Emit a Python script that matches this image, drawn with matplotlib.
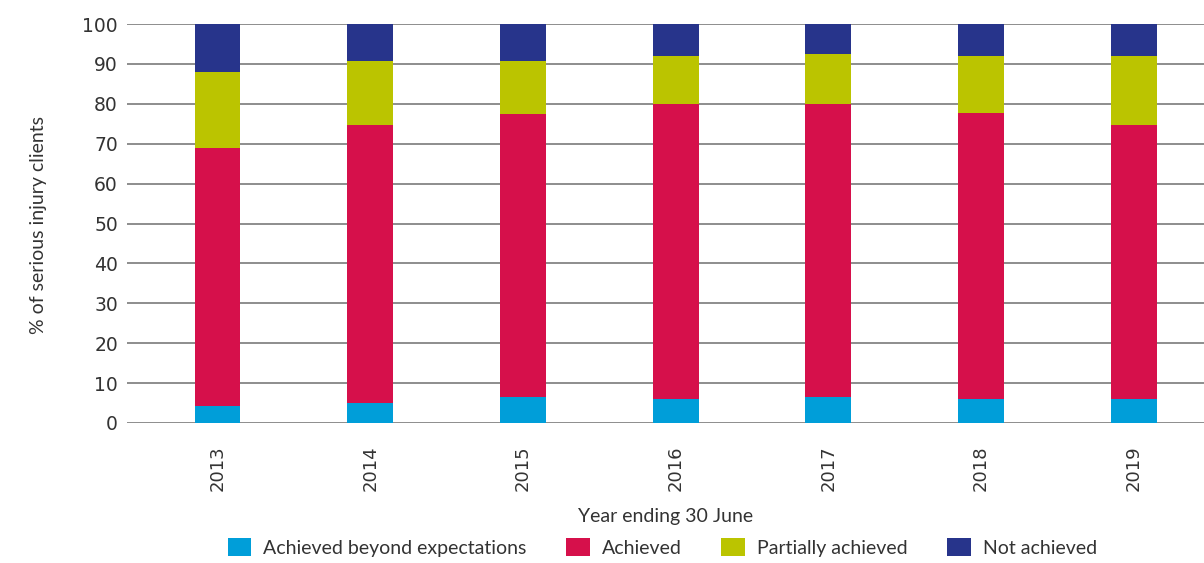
import numpy as np
import matplotlib
matplotlib.use("Agg")
import matplotlib.pyplot as plt

years = ["2013", "2014", "2015", "2016", "2017", "2018", "2019"]
beyond = [4.3, 4.9, 6.5, 6.0, 6.5, 6.0, 6.0]
achieved = [64.5, 69.8, 70.9, 74.0, 73.5, 71.7, 68.7]
partial = [19.2, 16.0, 13.3, 12.0, 12.6, 14.3, 17.3]
not_achieved = [12.0, 9.3, 9.3, 8.0, 7.4, 8.0, 8.0]

series = [
    ("Achieved beyond expectations", beyond, "#009ed9"),
    ("Achieved", achieved, "#d6104b"),
    ("Partially achieved", partial, "#bbc400"),
    ("Not achieved", not_achieved, "#27348b"),
]

label_font = ["Lato", "DejaVu Sans"]
text_col = "#333333"

fig = plt.figure(figsize=(12.04, 5.63), dpi=100)
ax = fig.add_axes([127 / 1204, 1 - 423 / 563, 1 - 127 / 1204, 399 / 563])

x = np.arange(len(years))
bottom = np.zeros(len(years))
for name, vals, col in series:
    ax.bar(x, vals, width=0.30, bottom=bottom, color=col, label=name,
           edgecolor="none", zorder=3)
    bottom += np.array(vals)

ax.set_xlim(-0.593, 6.46)
ax.set_ylim(0, 100)
ax.set_yticks(range(0, 101, 10))
ax.set_xticks(x)
ax.set_xticklabels(years, rotation=90)
ax.yaxis.grid(True, color="#7a7a7a", linewidth=1.2, zorder=0)
ax.set_axisbelow(True)
for s in ax.spines.values():
    s.set_visible(False)
ax.tick_params(axis="y", length=0, pad=6.5, labelsize=13.5, labelcolor=text_col)
ax.tick_params(axis="x", length=0, pad=16, labelsize=13, labelcolor=text_col)

ax.set_ylabel("% of serious injury clients", family=label_font, fontsize=14,
              color=text_col)
ax.yaxis.set_label_coords(-0.074, 0.497)
ax.set_xlabel("Year ending 30 June", family=label_font, fontsize=14,
              color=text_col)
ax.xaxis.set_label_coords(0.5, -0.213)

ax.legend(loc="center", bbox_to_anchor=(0.497, -0.311), ncol=4, frameon=False,
          prop={"family": label_font, "size": 14}, labelcolor=text_col,
          handlelength=1.2, handleheight=1.1, handletextpad=0.62,
          columnspacing=2.05)

fig.savefig("out.png", dpi=100)
